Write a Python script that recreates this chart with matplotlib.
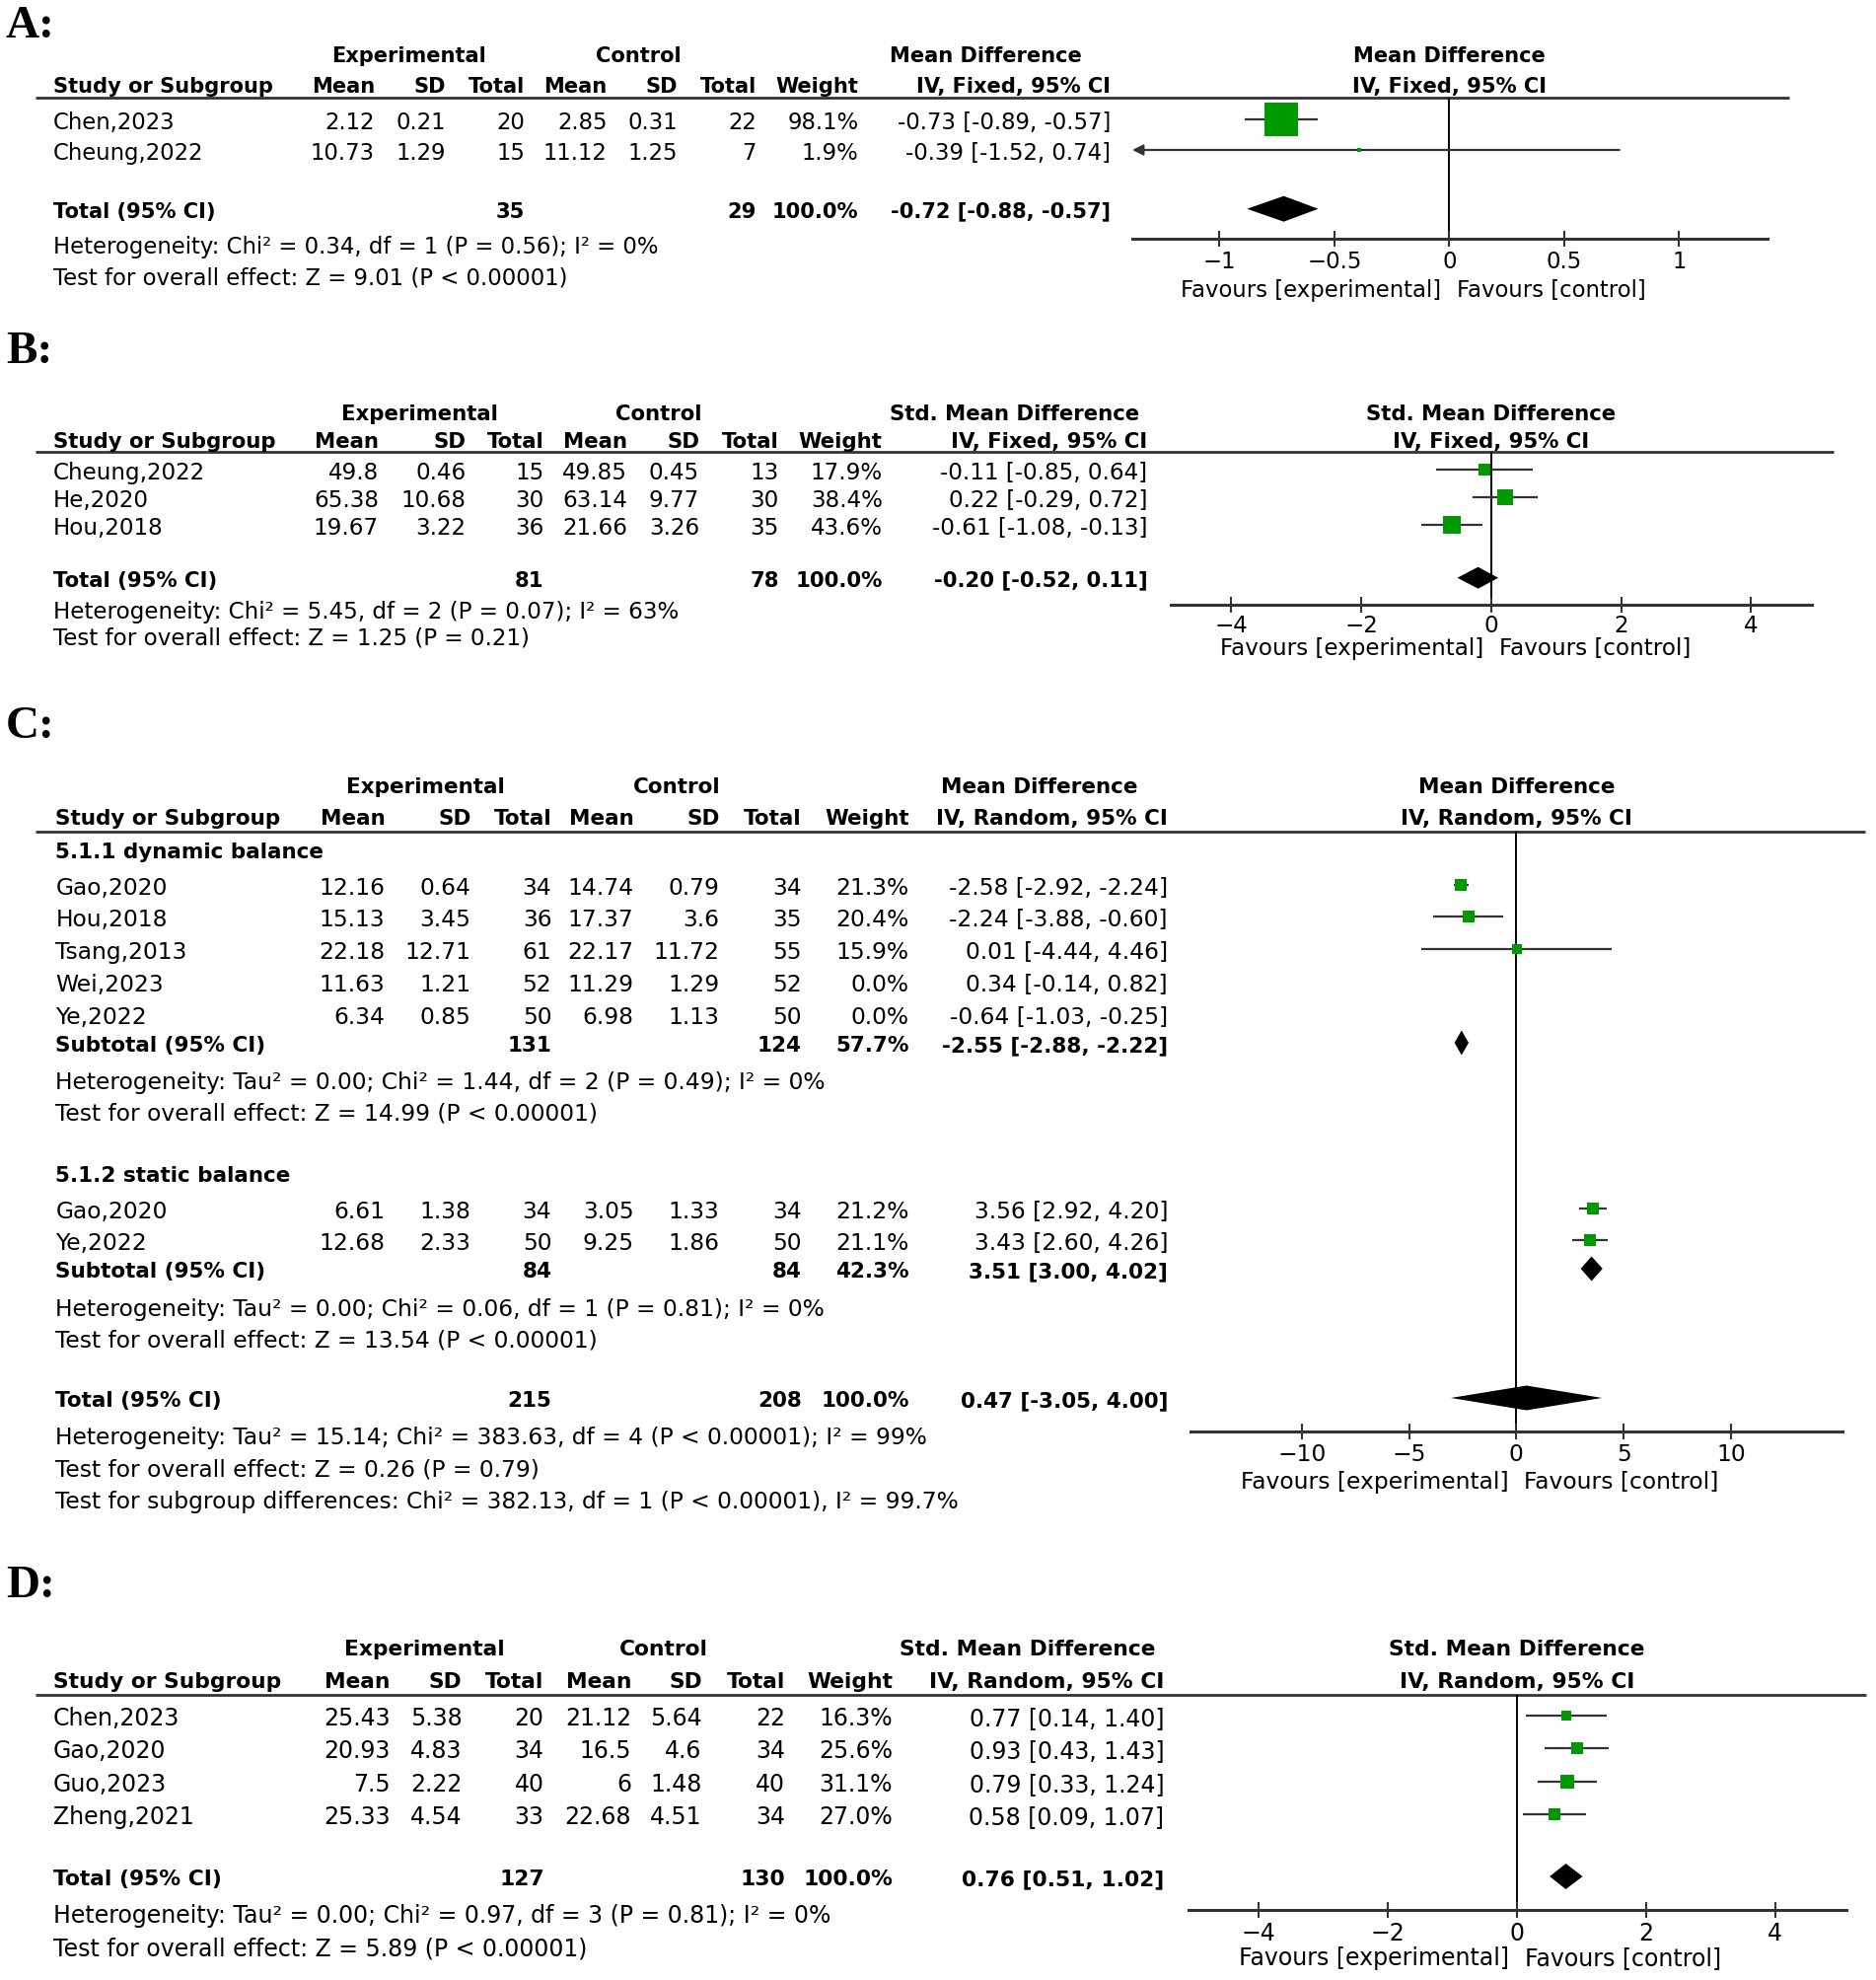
import matplotlib
matplotlib.use("Agg")
import matplotlib.pyplot as plt
from matplotlib.ticker import FixedLocator, FuncFormatter
from matplotlib.transforms import offset_copy
import numpy as np

plt.rcParams['font.family'] = ['DejaVu Sans']

# ======================= DATA =======================
col_top = ["Experimental", "Control"]
col_heads = ["Mean", "SD", "Total", "Mean", "SD", "Total", "Weight"]
study_head = "Study or Subgroup"
fav_left = "Favours [experimental]"
fav_right = "Favours [control]"

# ---- Panel A ----
a_effect = "Mean Difference"
a_method = "IV, Fixed, 95% CI"
a_studies = ["Chen,2023", "Cheung,2022"]
a_exp_mean = [2.12, 10.73]
a_exp_sd = [0.21, 1.29]
a_exp_n = [20, 15]
a_ctl_mean = [2.85, 11.12]
a_ctl_sd = [0.31, 1.25]
a_ctl_n = [22, 7]
a_weight = [98.1, 1.9]
a_est = [-0.73, -0.39]
a_lo = [-0.89, -1.52]
a_hi = [-0.57, 0.74]
a_total = [35, 29, 100.0, -0.72, -0.88, -0.57]
a_notes = ["Heterogeneity: Chi² = 0.34, df = 1 (P = 0.56); I² = 0%",
           "Test for overall effect: Z = 9.01 (P < 0.00001)"]
a_ticks = [-1, -0.5, 0, 0.5, 1]

# ---- Panel B ----
b_effect = "Std. Mean Difference"
b_method = "IV, Fixed, 95% CI"
b_studies = ["Cheung,2022", "He,2020", "Hou,2018"]
b_exp_mean = [49.8, 65.38, 19.67]
b_exp_sd = [0.46, 10.68, 3.22]
b_exp_n = [15, 30, 36]
b_ctl_mean = [49.85, 63.14, 21.66]
b_ctl_sd = [0.45, 9.77, 3.26]
b_ctl_n = [13, 30, 35]
b_weight = [17.9, 38.4, 43.6]
b_est = [-0.11, 0.22, -0.61]
b_lo = [-0.85, -0.29, -1.08]
b_hi = [0.64, 0.72, -0.13]
b_total = [81, 78, 100.0, -0.20, -0.52, 0.11]
b_notes = ["Heterogeneity: Chi² = 5.45, df = 2 (P = 0.07); I² = 63%",
           "Test for overall effect: Z = 1.25 (P = 0.21)"]
b_ticks = [-4, -2, 0, 2, 4]

# ---- Panel C ----
c_effect = "Mean Difference"
c_method = "IV, Random, 95% CI"
c_groups = ["5.1.1 dynamic balance", "5.1.2 static balance"]
c1_studies = ["Gao,2020", "Hou,2018", "Tsang,2013", "Wei,2023", "Ye,2022"]
c1_exp_mean = [12.16, 15.13, 22.18, 11.63, 6.34]
c1_exp_sd = [0.64, 3.45, 12.71, 1.21, 0.85]
c1_exp_n = [34, 36, 61, 52, 50]
c1_ctl_mean = [14.74, 17.37, 22.17, 11.29, 6.98]
c1_ctl_sd = [0.79, 3.6, 11.72, 1.29, 1.13]
c1_ctl_n = [34, 35, 55, 52, 50]
c1_weight = [21.3, 20.4, 15.9, 0.0, 0.0]
c1_est = [-2.58, -2.24, 0.01, 0.34, -0.64]
c1_lo = [-2.92, -3.88, -4.44, -0.14, -1.03]
c1_hi = [-2.24, -0.60, 4.46, 0.82, -0.25]
c1_sub = [131, 124, 57.7, -2.55, -2.88, -2.22]
c1_notes = ["Heterogeneity: Tau² = 0.00; Chi² = 1.44, df = 2 (P = 0.49); I² = 0%",
            "Test for overall effect: Z = 14.99 (P < 0.00001)"]
c2_studies = ["Gao,2020", "Ye,2022"]
c2_exp_mean = [6.61, 12.68]
c2_exp_sd = [1.38, 2.33]
c2_exp_n = [34, 50]
c2_ctl_mean = [3.05, 9.25]
c2_ctl_sd = [1.33, 1.86]
c2_ctl_n = [34, 50]
c2_weight = [21.2, 21.1]
c2_est = [3.56, 3.43]
c2_lo = [2.92, 2.60]
c2_hi = [4.20, 4.26]
c2_sub = [84, 84, 42.3, 3.51, 3.00, 4.02]
c2_notes = ["Heterogeneity: Tau² = 0.00; Chi² = 0.06, df = 1 (P = 0.81); I² = 0%",
            "Test for overall effect: Z = 13.54 (P < 0.00001)"]
c_total = [215, 208, 100.0, 0.47, -3.05, 4.00]
c_notes = ["Heterogeneity: Tau² = 15.14; Chi² = 383.63, df = 4 (P < 0.00001); I² = 99%",
           "Test for overall effect: Z = 0.26 (P = 0.79)",
           "Test for subgroup differences: Chi² = 382.13, df = 1 (P < 0.00001), I² = 99.7%"]
c_ticks = [-10, -5, 0, 5, 10]

# ---- Panel D ----
d_effect = "Std. Mean Difference"
d_method = "IV, Random, 95% CI"
d_studies = ["Chen,2023", "Gao,2020", "Guo,2023", "Zheng,2021"]
d_exp_mean = [25.43, 20.93, 7.5, 25.33]
d_exp_sd = [5.38, 4.83, 2.22, 4.54]
d_exp_n = [20, 34, 40, 33]
d_ctl_mean = [21.12, 16.5, 6, 22.68]
d_ctl_sd = [5.64, 4.6, 1.48, 4.51]
d_ctl_n = [22, 34, 40, 34]
d_weight = [16.3, 25.6, 31.1, 27.0]
d_est = [0.77, 0.93, 0.79, 0.58]
d_lo = [0.14, 0.43, 0.33, 0.09]
d_hi = [1.40, 1.43, 1.24, 1.07]
d_total = [127, 130, 100.0, 0.76, 0.51, 1.02]
d_notes = ["Heterogeneity: Tau² = 0.00; Chi² = 0.97, df = 3 (P = 0.81); I² = 0%",
           "Test for overall effect: Z = 5.89 (P < 0.00001)"]
d_ticks = [-4, -2, 0, 2, 4]

panel_labels = ["A:", "B:", "C:", "D:"]

# ======================= STYLE / LAYOUT =======================
W, H = 1902, 2008
GREEN = "#009900"
LINE = "#333333"
BOLD_SCALE = 0.92

fig = plt.figure(figsize=(W / 100, H / 100), dpi=100)
tax = fig.add_axes([0, 0, 1, 1])
tax.set_xlim(0, W)
tax.set_ylim(H, 0)
tax.axis("off")


def txt(x, y, s, fs, ha="left", bold=False):
    tax.text(x, y, s, ha=ha, va="center_baseline",
             fontsize=fs * BOLD_SCALE if bold else fs,
             fontweight="bold" if bold else "normal", color="black")


def fmt_num(v):
    return f"{v:g}"


def fmt_ci(e, l, h):
    return f"{e:.2f} [{l:.2f}, {h:.2f}]"


def headers(L, effect, method):
    fs = L["fs"]
    for (x, s) in zip(L["h1x"], col_top + [effect]):
        txt(x, L["h1y"], s, fs, ha="center", bold=True)
    txt(L["sx"], L["h2y"], study_head, fs, bold=True)
    for x, s in zip(L["cols"][:7], col_heads):
        txt(x, L["h2y"], s, fs, ha="right", bold=True)
    txt(L["cols"][7], L["h2y"], method, fs, ha="right", bold=True)
    tax.plot([L["lx0"], L["lx1"]], [L["ly"], L["ly"]], color=LINE, lw=2.0,
             solid_capstyle="butt")


def make_forest(L, ticks, effect, method):
    x0, x1 = L["fx"]
    ytop, yax = L["ly"], L["axy"]
    ax = fig.add_axes([x0 / W, 1 - yax / H, (x1 - x0) / W, (yax - ytop) / H])
    ax.set_xlim(*L["xlim"])
    ax.set_ylim(yax, ytop)
    ax.patch.set_alpha(0)
    for s in ["top", "left", "right"]:
        ax.spines[s].set_visible(False)
    ax.spines["bottom"].set_linewidth(2.2)
    ax.spines["bottom"].set_color(LINE)
    ax.set_yticks([])
    ax.xaxis.set_major_locator(FixedLocator(ticks))
    ax.xaxis.set_major_formatter(
        FuncFormatter(lambda v, p: f"{v:g}".replace("-", "\u2212")))
    ax.tick_params(axis="x", direction="inout", length=11, width=1.5,
                   labelsize=L["fs"], pad=L["tpad"], color=LINE)
    ax.axvline(0, color="black", lw=1.4, zorder=1)
    fs = L["fs"]
    ax.text(0, L["h1y"], effect, ha="center", va="center_baseline",
            fontsize=fs * BOLD_SCALE, fontweight="bold", clip_on=False)
    ax.text(0, L["h2y"], method, ha="center", va="center_baseline",
            fontsize=fs * BOLD_SCALE, fontweight="bold", clip_on=False)
    tl = offset_copy(ax.transData, fig=fig, x=-8, y=0, units="dots")
    tr = offset_copy(ax.transData, fig=fig, x=8, y=0, units="dots")
    ax.text(0, L["favy"], fav_left, ha="right", va="center_baseline",
            fontsize=fs, transform=tl, clip_on=False)
    ax.text(0, L["favy"], fav_right, ha="left", va="center_baseline",
            fontsize=fs, transform=tr, clip_on=False)
    return ax


def study_rows(ax, L, ys, studies, em, esd, en, cm, csd, cn, w, est, lo, hi):
    fs = L["fs"]
    cols = L["cols"]
    xmin, xmax = ax.get_xlim()
    for i, y in enumerate(ys):
        txt(L["sx"], y, studies[i], fs)
        vals = [fmt_num(em[i]), fmt_num(esd[i]), str(en[i]),
                fmt_num(cm[i]), fmt_num(csd[i]), str(cn[i]),
                f"{w[i]:.1f}%", fmt_ci(est[i], lo[i], hi[i])]
        for x, v in zip(cols, vals):
            txt(x, y, v, fs, ha="right")
        if w[i] <= 0:
            continue
        lc, hc = max(lo[i], xmin), min(hi[i], xmax)
        if lo[i] < xmin:
            ax.annotate("", xy=(xmin, y), xytext=(hc, y),
                        arrowprops=dict(arrowstyle="-|>", color=LINE, lw=1.6,
                                        mutation_scale=16, shrinkA=0, shrinkB=0),
                        zorder=2, annotation_clip=False)
        else:
            ax.plot([lc, hc], [y, y], color=LINE, lw=1.6,
                    solid_capstyle="butt", zorder=2)
        side_px = L["boxk"] * np.sqrt(w[i])
        ax.plot(est[i], y, marker="s", ms=side_px * 0.72, color=GREEN,
                mew=0, zorder=3, clip_on=False)


def total_row(ax, L, y, label, tot):
    fs = L["fs"]
    cols = L["cols"]
    txt(L["sx"], y, label, fs, bold=True)
    txt(cols[2], y, str(tot[0]), fs, ha="right", bold=True)
    txt(cols[5], y, str(tot[1]), fs, ha="right", bold=True)
    txt(cols[6], y, f"{tot[2]:.1f}%", fs, ha="right", bold=True)
    txt(cols[7], y, fmt_ci(tot[3], tot[4], tot[5]), fs, ha="right", bold=True)
    dh = L["dh"]
    ax.fill([tot[4], tot[3], tot[5], tot[3]], [y, y - dh, y, y + dh],
            color="black", lw=0, zorder=3)


def notes(L, ys, lines):
    for y, s in zip(ys, lines):
        txt(L["sx"], y, s, L["fs"])


# ---------------- Panel A ----------------
LA = dict(fs=16.4, sx=53.8,
          cols=[380, 452, 532.5, 615.7, 687.4, 766.7, 870.4, 1126.4],
          h1x=[414.7, 647.7, 999.7], h1y=55, h2y=86, ly=100, lx0=36, lx1=1814,
          fx=(1148, 1792), xlim=(-1.379, 1.385), axy=243, favy=291.7,
          tpad=2.5, boxk=3.5, dh=13)
headers(LA, a_effect, a_method)
axA = make_forest(LA, a_ticks, a_effect, a_method)
study_rows(axA, LA, [121.7, 153], a_studies, a_exp_mean, a_exp_sd, a_exp_n,
           a_ctl_mean, a_ctl_sd, a_ctl_n, a_weight, a_est, a_lo, a_hi)
total_row(axA, LA, 212.7, "Total (95% CI)", a_total)
notes(LA, [248, 279.3], a_notes)

# ---------------- Panel B ----------------
LB = dict(fs=16.6, sx=53.8,
          cols=[384, 472.3, 551.7, 636.2, 709, 789.8, 894.7, 1163.5],
          h1x=[425, 668, 1029], h1y=418, h2y=446, ly=459, lx0=36, lx1=1858.6,
          fx=(1187, 1836.6), xlim=(-4.93, 4.93), axy=614, favy=655,
          tpad=1.0, boxk=2.6, dh=11)
headers(LB, b_effect, b_method)
axB = make_forest(LB, b_ticks, b_effect, b_method)
study_rows(axB, LB, [476.7, 505, 533], b_studies, b_exp_mean, b_exp_sd, b_exp_n,
           b_ctl_mean, b_ctl_sd, b_ctl_n, b_weight, b_est, b_lo, b_hi)
total_row(axB, LB, 586.7, "Total (95% CI)", b_total)
notes(LB, [618, 645], b_notes)

# ---------------- Panel C ----------------
LC = dict(fs=16.8, sx=56.3,
          cols=[390.4, 477.4, 559.4, 642.6, 729.6, 812.8, 921.6, 1184],
          h1x=[431.4, 686, 1053.4], h1y=795.7, h2y=828, ly=844, lx0=36, lx1=1890.6,
          fx=(1206.6, 1868), xlim=(-15.2, 15.2), axy=1452, favy=1500,
          tpad=2.5, boxk=2.5, dh=12.5)
headers(LC, c_effect, c_method)
axC = make_forest(LC, c_ticks, c_effect, c_method)
txt(LC["sx"], 861.7, c_groups[0], LC["fs"], bold=True)
study_rows(axC, LC, [898, 930, 963, 996, 1029], c1_studies, c1_exp_mean, c1_exp_sd,
           c1_exp_n, c1_ctl_mean, c1_ctl_sd, c1_ctl_n, c1_weight, c1_est, c1_lo, c1_hi)
total_row(axC, LC, 1058, "Subtotal (95% CI)", c1_sub)
notes(LC, [1095, 1127], c1_notes)
txt(LC["sx"], 1190, c_groups[1], LC["fs"], bold=True)
study_rows(axC, LC, [1226, 1258], c2_studies, c2_exp_mean, c2_exp_sd,
           c2_exp_n, c2_ctl_mean, c2_ctl_sd, c2_ctl_n, c2_weight, c2_est, c2_lo, c2_hi)
total_row(axC, LC, 1287, "Subtotal (95% CI)", c2_sub)
notes(LC, [1325, 1357], c2_notes)
total_row(axC, LC, 1418, "Total (95% CI)", c_total)
notes(LC, [1455, 1488, 1520], c_notes)

# ---------------- Panel D ----------------
LD = dict(fs=17.0, sx=53.8,
          cols=[395.5, 468.5, 551.7, 640, 711.7, 796.2, 905, 1180.2],
          h1x=[430, 673.3, 1042], h1y=1670, h2y=1702.7, ly=1719, lx0=36, lx1=1891.8,
          fx=(1205, 1871.8), xlim=(-5.08, 5.10), axy=1937, favy=1983,
          tpad=2.5, boxk=2.5, dh=13)
headers(LD, d_effect, d_method)
axD = make_forest(LD, d_ticks, d_effect, d_method)
study_rows(axD, LD, [1740, 1773, 1807, 1840], d_studies, d_exp_mean, d_exp_sd,
           d_exp_n, d_ctl_mean, d_ctl_sd, d_ctl_n, d_weight, d_est, d_lo, d_hi)
total_row(axD, LD, 1903, "Total (95% CI)", d_total)
notes(LD, [1940, 1973], d_notes)

# ---------------- Panel letters ----------------
for lab, y in zip(panel_labels, [22.5, 352.5, 732, 1603]):
    tax.text(6, y, lab, ha="left", va="center_baseline", fontsize=34,
             fontweight="bold", family=["Liberation Serif", "DejaVu Serif"])

fig.savefig("out.png", dpi=100, facecolor="white")
